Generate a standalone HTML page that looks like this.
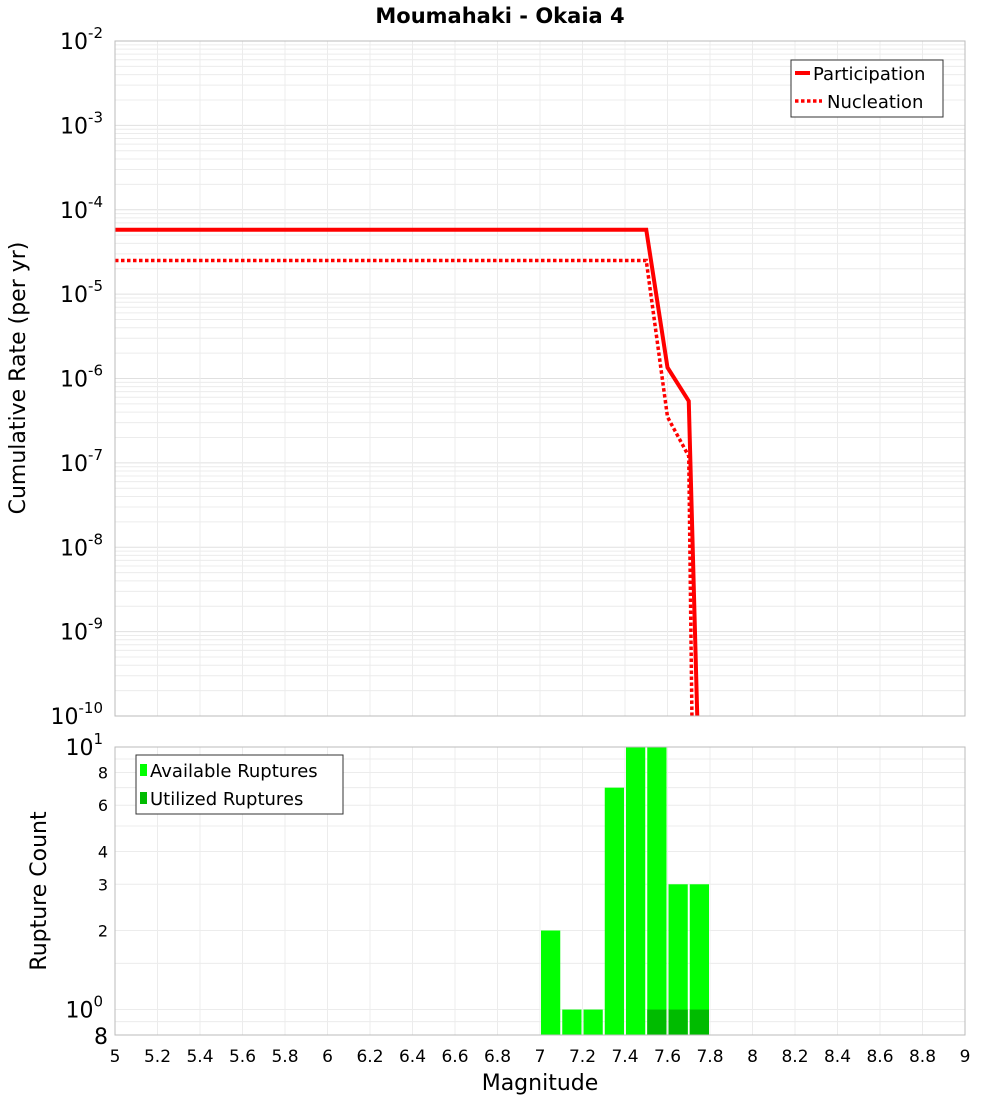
<!DOCTYPE html>
<html><head><meta charset="utf-8"><style>
body{margin:0;background:#fff;font-family:"Liberation Sans","DejaVu Sans",sans-serif}
svg text{font-family:"DejaVu Sans","Liberation Sans",sans-serif}
</style></head><body>
<svg id="c" width="1000" height="1100" xmlns="http://www.w3.org/2000/svg">
<text x="500" y="23" text-anchor="middle" font-size="21" font-weight="bold">Moumahaki - Okaia 4</text>
<g id="topg"></g>
<g id="botg"></g>
<text transform="translate(25,378) rotate(-90)" text-anchor="middle" font-size="22">Cumulative Rate (per yr)</text>
<text transform="translate(46,891) rotate(-90)" text-anchor="middle" font-size="22">Rupture Count</text>
<text x="540" y="1090" text-anchor="middle" font-size="22">Magnitude</text>
</svg>
<script>
const partMag=[5,7.5,7.6,7.7,7.74];
const partRate=[5.8e-5,5.8e-5,1.35e-6,5.4e-7,1e-10];
const nuclMag=[5,7.5,7.6,7.7,7.715];
const nuclRate=[2.5e-5,2.5e-5,3.5e-7,1.2e-7,1e-10];
const binStart=[7.0,7.1,7.2,7.3,7.4,7.5,7.6,7.7];
const available=[2,1,1,7,10,10,3,3];
const utilized=[0,0,0,0,0,1,1,1];
const xTicks=[5,5.2,5.4,5.6,5.8,6,6.2,6.4,6.6,6.8,7,7.2,7.4,7.6,7.8,8,8.2,8.4,8.6,8.8,9];
const rateExps=[-2,-3,-4,-5,-6,-7,-8,-9,-10];
const countTicks=[8,6,4,3,2];

const NS="http://www.w3.org/2000/svg";
const X0=115,X1=965;
const x=m=>X0+(m-5)/4*(X1-X0);
const T0=41,T1=716;
const yr=v=>T0+(-2-Math.log10(v))/8*(T1-T0);
const B0=747,B1=1035;
const yc=v=>B0+(1-Math.log10(v))/(1-Math.log10(0.8))*(B1-B0);
function mk(p,t,a,txt){const e=document.createElementNS(NS,t);for(const k in a)e.setAttribute(k,a[k]);if(txt!==undefined)e.textContent=txt;p.appendChild(e);return e;}
const topG=document.getElementById('topg'),botG=document.getElementById('botg');
for(let d=-10;d<-2;d++)for(let k=1;k<10;k++){const yy=yr(k*Math.pow(10,d));
const l=mk(topG,'line',{x1:X0,x2:X1,y1:yy,y2:yy,stroke:k==1?'#e0e0e0':'#ececec','stroke-width':1});

}
for(const t of xTicks){const l=mk(topG,'line',{x1:x(t),x2:x(t),y1:T0,y2:T1,stroke:'#ececec'});


const l2=mk(botG,'line',{x1:x(t),x2:x(t),y1:B0,y2:B1,stroke:'#ececec'});


const tx=mk(botG,'text',{x:x(t),y:1062,'text-anchor':'middle','font-size':17},String(t));

}
for(const e of rateExps){const g=mk(topG,'text',{x:103,y:yr(Math.pow(10,e))+8,'text-anchor':'end','font-size':22});


g.textContent='10';mk(g,'tspan',{dy:-11,'font-size':15},String(e));}
function poly(m,r,dash,name){const pts=m.map((v,i)=>x(v)+','+yr(Math.max(r[i],1e-10))).join(' ');
const p=mk(topG,'polyline',{points:pts,fill:'none',stroke:'#ff0000','stroke-width':dash?3.5:4,'stroke-dasharray':dash?'3.5,2.5':'none'});

}
poly(nuclMag,nuclRate,true,'nucleation-line');
poly(partMag,partRate,false,'participation-line');
mk(topG,'rect',{x:X0,y:T0,width:X1-X0,height:T1-T0,fill:'none',stroke:'#bbb'});
const lg=mk(topG,'g',{});
mk(lg,'rect',{x:791,y:60,width:152,height:57,fill:'#fff',stroke:'#333'});
mk(lg,'line',{x1:795,x2:810,y1:73,y2:73,stroke:'red','stroke-width':4});
mk(lg,'text',{x:813,y:80,'font-size':18},'Participation');
mk(lg,'line',{x1:795,x2:822,y1:101,y2:101,stroke:'red','stroke-width':3.5,'stroke-dasharray':'3.5,2.5'});
mk(lg,'text',{x:827,y:108,'font-size':18},'Nucleation');
for(const v of [1,10].concat(countTicks).concat([0.8,0.9,9,7,5,1.5])){const l=mk(botG,'line',{x1:X0,x2:X1,y1:yc(v),y2:yc(v),stroke:'#ececec'});

}
for(const v of countTicks){const t=mk(botG,'text',{x:108,y:yc(v)+6,'text-anchor':'end','font-size':16},String(v));

}
[[10,1],[1,0]].forEach(([v,e])=>{const g=mk(botG,'text',{x:103,y:yc(v)+8,'text-anchor':'end','font-size':22},'10');mk(g,'tspan',{dy:-11,'font-size':15},String(e));

});
const b8=mk(botG,'text',{x:108,y:1044,'text-anchor':'end','font-size':22},'8');


binStart.forEach((m,i)=>{const xa=x(m)+1,w=x(m+0.1)-x(m)-2;
if(available[i]>0){const r=mk(botG,'rect',{x:xa,y:yc(available[i]),width:w,height:B1-yc(available[i]),fill:'#00ff00'});

}
if(utilized[i]>0){const r=mk(botG,'rect',{x:xa,y:yc(utilized[i]),width:w,height:B1-yc(utilized[i]),fill:'#00bb00'});

}});
mk(botG,'rect',{x:X0,y:B0,width:X1-X0,height:B1-B0,fill:'none',stroke:'#bbb'});
const lb=mk(botG,'g',{});
mk(lb,'rect',{x:136,y:755,width:207,height:59,fill:'#fff',stroke:'#333'});
mk(lb,'rect',{x:140,y:764,width:7,height:12,fill:'#00ff00'});
mk(lb,'text',{x:150,y:777,'font-size':18},'Available Ruptures');
mk(lb,'rect',{x:140,y:792,width:7,height:12,fill:'#00bb00'});
mk(lb,'text',{x:150,y:805,'font-size':18},'Utilized Ruptures');
</script>
</body></html>
